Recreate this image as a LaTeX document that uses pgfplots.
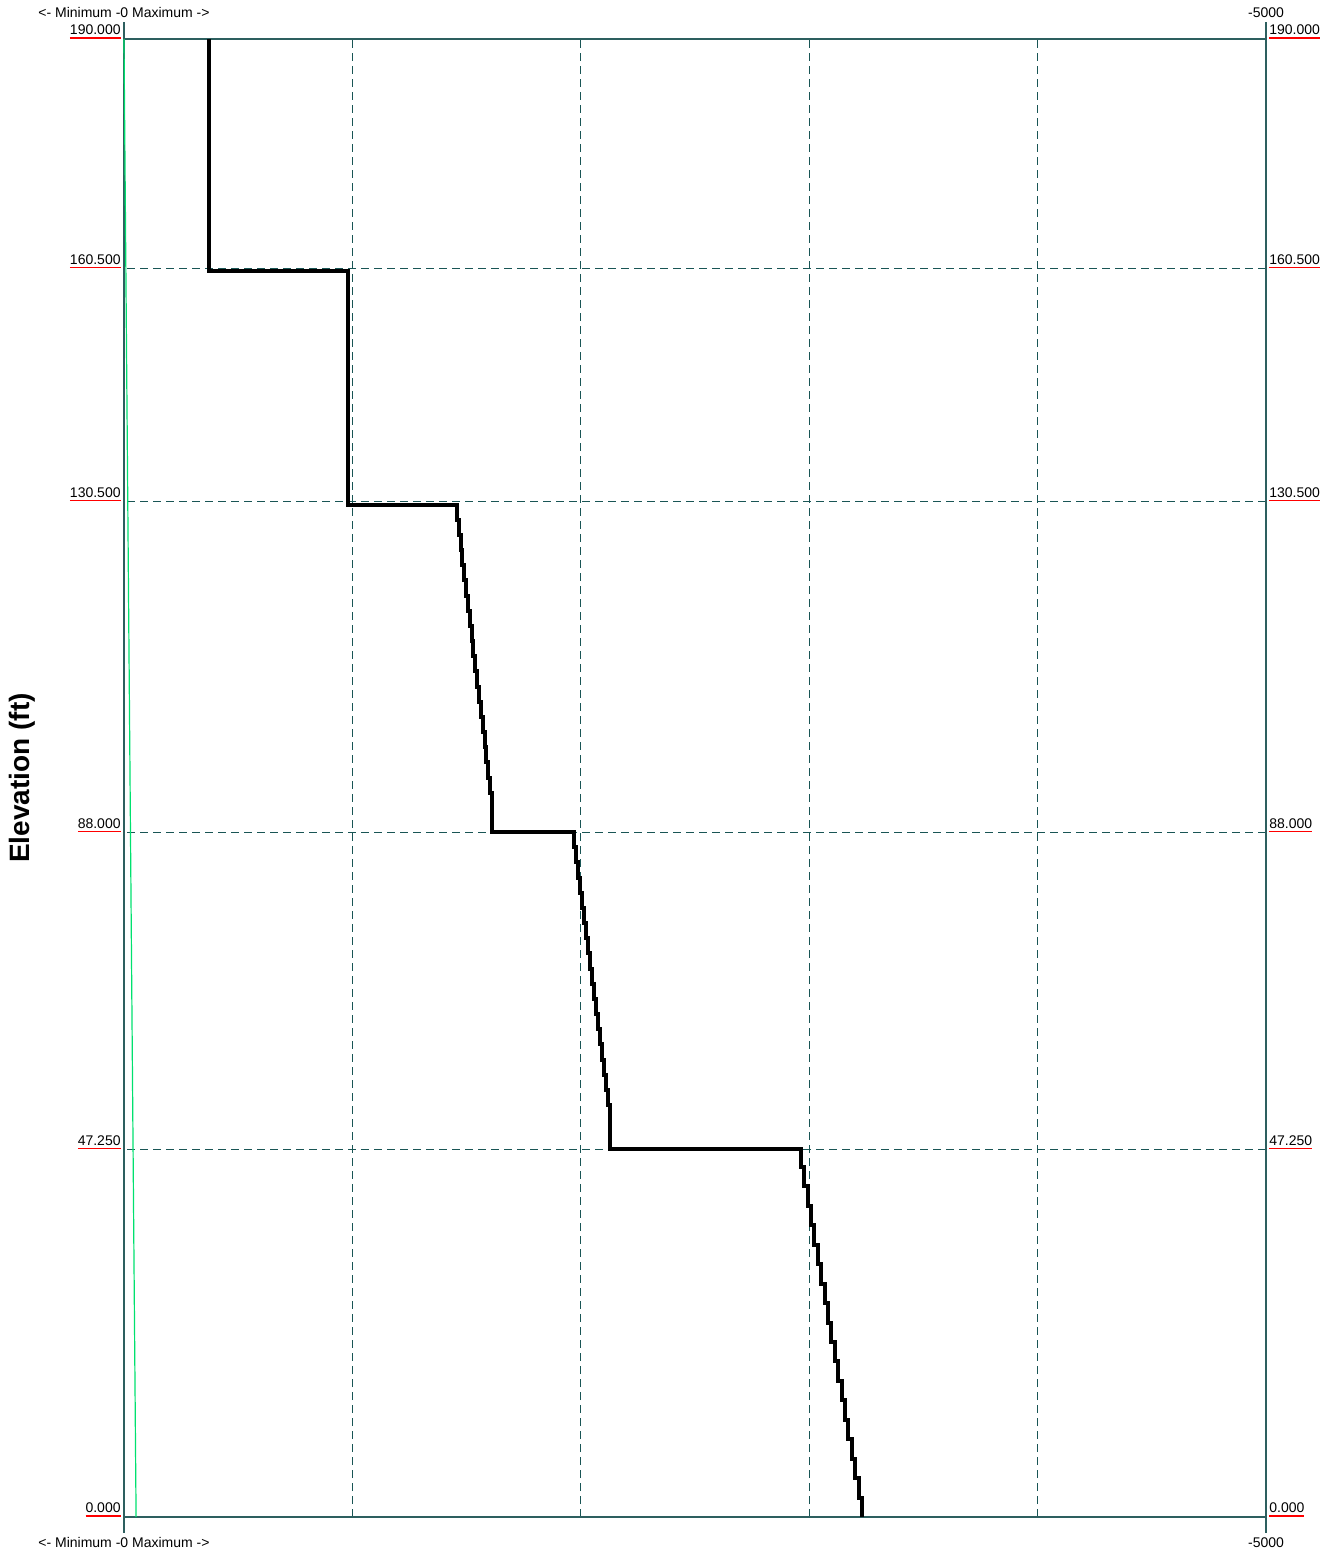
\documentclass[border=0pt]{standalone}
\usepackage{fontspec}
\setmainfont{Liberation Sans}
\usepackage{pgfplots}
\pgfplotsset{compat=1.18}
\definecolor{framecol}{RGB}{45,95,95}
\definecolor{gridcol}{RGB}{25,85,85}
\definecolor{greenline}{RGB}{0,225,110}
\newcommand\redul[1]{\setbox0=\hbox{#1}\vbox{\offinterlineskip\copy0\kern1.1pt\hbox{\color{red}\rule{\wd0}{0.75pt}}}}
\begin{document}
\begin{tikzpicture}
\pgfplotsset{
  common/.style={
    scale only axis, width=571pt, height=739pt,
    at={(0,0)}, anchor=south west,
    xmin=-5000, xmax=0, ymin=0, ymax=190, x dir=reverse,
    ytick={0,47.25,88,130.5,160.5,190},
    major tick length=0pt,
    /pgf/number format/assume math mode=true,
    tick label style={font=\fontsize{7}{8}\selectfont},
    yticklabel={\redul{\pgfmathprintnumber[fixed,fixed zerofill,precision=3]{\tick}}},
  }
}
\begin{axis}[common,
  axis line style={draw=framecol, line width=0.6pt},
  xtick={-5000,-4000,-3000,-2000,-1000,0},
  xticklabels={-5000,,,,,{<- Minimum -0 Maximum ->}},
  xmajorgrids, ymajorgrids,
  grid style={gridcol, dash pattern=on 4pt off 2.5pt, line width=0.5pt},
  yticklabel style={anchor=south east, inner xsep=1.5pt, inner ysep=0pt},
  xticklabel style={anchor=base, yshift=-15pt},
  ylabel={Elevation (ft)},
  ylabel style={font=\bfseries\fontsize{14}{16}\selectfont, at={(axis description cs:-0.089,0.5)}, anchor=center},
  clip=false,
]
\addplot[greenline, line width=0.6pt] coordinates {(0,190) (-53,0)};
\addplot[black, line width=2pt, line join=miter] coordinates {
(-372,190)(-372,160.2)(-981,160.2)(-981,130.1)(-1458,130.1)
(-1458,128.2)(-1466,128.2)
(-1466,126.25)(-1474,126.25)
(-1474,124.3)(-1482,124.3)
(-1482,122.35)(-1490,122.35)
(-1490,120.4)(-1498,120.4)
(-1498,118.45)(-1506,118.45)
(-1506,116.5)(-1514,116.5)
(-1514,114.55)(-1522,114.55)
(-1522,112.6)(-1530,112.6)
(-1530,110.65)(-1539,110.65)
(-1539,108.7)(-1547,108.7)
(-1547,106.75)(-1555,106.75)
(-1555,104.8)(-1563,104.8)
(-1563,102.85)(-1571,102.85)
(-1571,100.9)(-1579,100.9)
(-1579,98.95)(-1587,98.95)
(-1587,97.0)(-1595,97.0)
(-1595,95.05)(-1603,95.05)
(-1603,93.1)(-1611,93.1)
(-1611,88)(-1970,88)
(-1970,86.1)(-1979,86.1)
(-1979,84.15)(-1988,84.15)
(-1988,82.2)(-1996,82.2)
(-1996,80.25)(-2005,80.25)
(-2005,78.3)(-2014,78.3)
(-2014,76.35)(-2023,76.35)
(-2023,74.4)(-2031,74.4)
(-2031,72.45)(-2040,72.45)
(-2040,70.5)(-2049,70.5)
(-2049,68.55)(-2058,68.55)
(-2058,66.6)(-2067,66.6)
(-2067,64.65)(-2075,64.65)
(-2075,62.7)(-2084,62.7)
(-2084,60.75)(-2093,60.75)
(-2093,58.8)(-2102,58.8)
(-2102,56.85)(-2110,56.85)
(-2110,54.9)(-2119,54.9)
(-2119,53.0)(-2128,53.0)
(-2128,47.3)(-2964,47.3)
(-2964,45.0)(-2979,45.0)
(-2979,42.5)(-2994,42.5)
(-2994,40.0)(-3008,40.0)
(-3008,37.5)(-3023,37.5)
(-3023,35.0)(-3038,35.0)
(-3038,32.5)(-3053,32.5)
(-3053,30.0)(-3068,30.0)
(-3068,27.5)(-3083,27.5)
(-3083,25.0)(-3097,25.0)
(-3097,22.5)(-3112,22.5)
(-3112,20.0)(-3127,20.0)
(-3127,17.5)(-3142,17.5)
(-3142,15.0)(-3157,15.0)
(-3157,12.5)(-3172,12.5)
(-3172,10.0)(-3186,10.0)
(-3186,7.5)(-3201,7.5)
(-3201,5.0)(-3216,5.0)
(-3216,2.5)(-3231,2.5)
(-3231,0)
};
\draw[framecol, line width=0.6pt] (axis description cs:0,1) -- ++(0pt,8.5pt);
\draw[framecol, line width=0.6pt] (axis description cs:0,0) -- ++(0pt,-8pt);
\draw[framecol, line width=0.6pt] (axis description cs:1,1) -- ++(0pt,8.5pt);
\draw[framecol, line width=0.6pt] (axis description cs:1,0) -- ++(0pt,-8pt);
\end{axis}
\begin{axis}[common,
  axis line style={draw=none},
  xtick={-5000,0},
  xticklabels={-5000,{<- Minimum -0 Maximum ->}},
  xticklabel pos=upper, yticklabel pos=right,
  yticklabel style={anchor=south west, inner xsep=1.5pt, inner ysep=0pt},
  xticklabel style={anchor=base, yshift=10.5pt},
]
\addplot[draw=none] coordinates {(0,0)};
\end{axis}
\pgfresetboundingbox
\path[use as bounding box] (-62pt,-18pt) rectangle (604pt,758.5pt);
\end{tikzpicture}
\end{document}
